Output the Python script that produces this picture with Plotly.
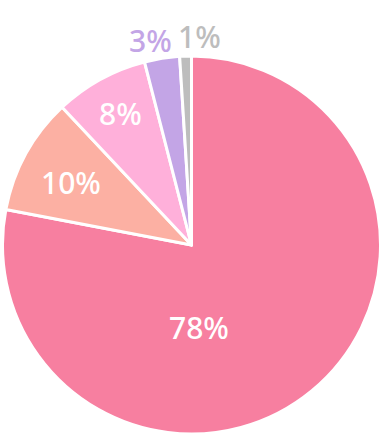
import plotly.graph_objects as go

labels = ["A", "B", "C", "D", "E"]
values = [78, 10, 8, 3, 1]
colors = ["#F77FA0", "#FCB0A3", "#FFB0DA", "#C3A5E6", "#BDBDBD"]
label_inside = [True, True, True, False, False]

W, H = 384, 438
# label centres in pixels (layout positions of the text)
label_px = [(199, 327), (71, 182), (120, 114), (150, 41), (199, 36)]

fig = go.Figure(go.Pie(
    labels=labels,
    values=values,
    sort=False,
    direction="clockwise",
    rotation=0,
    marker=dict(colors=colors, line=dict(color="white", width=3)),
    textposition="none",
    showlegend=False,
    hoverinfo="skip",
    domain=dict(x=[2.5 / W, 380.5 / W], y=[1 - 434 / H, 1 - 56 / H]),
))

total = sum(values)
for v, c, inside, (px, py) in zip(values, colors, label_inside, label_px):
    fig.add_annotation(
        text=f"{round(100 * v / total)}%",
        x=px / W, y=1 - py / H, xref="paper", yref="paper",
        xanchor="center", yanchor="middle", showarrow=False,
        font=dict(family="Noto Sans", size=30, weight=500,
                  color="white" if inside else c),
    )

fig.update_layout(
    width=W, height=H,
    margin=dict(l=0, r=0, t=0, b=0),
    paper_bgcolor="white",
    plot_bgcolor="white",
)
fig.write_html(
    "out.html",
    config={"displayModeBar": False},
    post_script="document.body.style.margin='0';document.body.style.overflow='hidden';",
)
